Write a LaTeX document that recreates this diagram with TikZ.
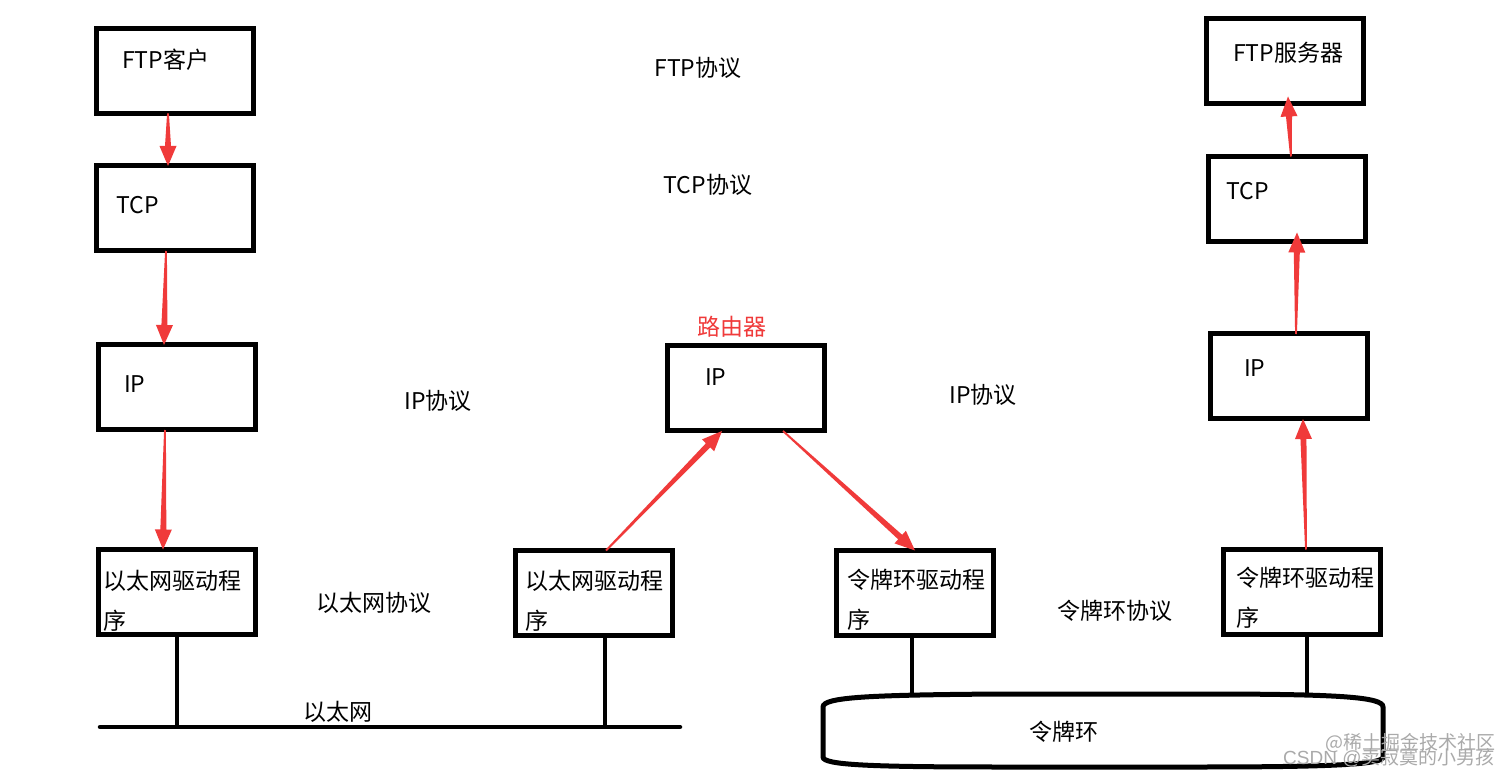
\documentclass[tikz,border=0pt]{standalone}
\usepackage{fontspec}
\setmainfont{Noto Sans CJK SC}
\newfontfamily\wmlatin{Liberation Sans}
\usetikzlibrary{calc}
\definecolor{arrowred}{RGB}{240,58,58}
\definecolor{wmgray}{RGB}{170,170,170}
\newcommand\tarrow[2]{%
  \fill[arrowred] let \p1=(#1), \p2=(#2), \n1={atan2(\y2-\y1,\x2-\x1)},
    \n2={\n1+90}, \n3={\n1-90}, \n4={\n1+180} in
    ($(\p1)+(\n2:0.9pt)$) -- ($(\p2)+(\n4:20pt)+(\n2:3pt)$) -- ($(\p2)+(\n4:20pt)+(\n2:8.5pt)$)
    -- (\p2) -- ($(\p2)+(\n4:20pt)+(\n3:8.5pt)$) -- ($(\p2)+(\n4:20pt)+(\n3:3pt)$)
    -- ($(\p1)+(\n3:0.9pt)$) -- cycle;}
\tikzset{
  box/.style={draw, line width=5pt, minimum width=157pt, minimum height=85pt, inner sep=0pt, outer sep=0pt},
  txt/.style={font=\fontsize{23}{28}\selectfont, inner sep=0pt, anchor=base west},
  ctxt/.style={font=\fontsize{23}{28}\selectfont, inner sep=0pt, anchor=base},
  wire/.style={line width=4.5pt},
  wm/.style={font=\fontsize{19}{20}\selectfont, text=wmgray, inner sep=0pt, anchor=base west}
}
\begin{document}
\begin{tikzpicture}[x=1pt,y=-1pt]
\useasboundingbox (0,0) rectangle (1508,775);
\fill[white] (0,0) rectangle (1508,775);

% boxes
\node[box] (ftpc) at (175,71) {};
\node[box] (tcpl) at (175,208.5) {};
\node[box] (ipl)  at (177,387.5) {};
\node[box] (ethl) at (177,592) {};
\node[box] (ethm) at (594,593) {};
\node[box] (rip)  at (746,388.5) {};
\node[box] (tokm) at (915,593) {};
\node[box] (tokr) at (1302,592) {};
\node[box] (ipr)  at (1289,376.5) {};
\node[box] (tcpr) at (1287,199) {};
\node[box] (ftps) at (1284.5,61) {};

% box texts
\node[txt] (ftpct) at (122,69) {FTP客户};
\node[txt] (tcplt) at (116,214) {TCP};
\node[txt] (iplt)  at (124,393) {IP};
\node[txt] (ethlt1) at (103,589) {以太网驱动程};
\node[txt] (ethlt2) at (103,629) {序};
\node[txt] (ethmt1) at (525,589) {以太网驱动程};
\node[txt] (ethmt2) at (525,629) {序};
\node[txt] (ript)  at (705,386) {IP};
\node[txt] (tokmt1) at (847,588) {令牌环驱动程};
\node[txt] (tokmt2) at (847,628) {序};
\node[txt] (tokrt1) at (1236,586) {令牌环驱动程};
\node[txt] (tokrt2) at (1236,626) {序};
\node[txt] (iprt)  at (1244,377) {IP};
\node[txt] (tcprt) at (1226,200) {TCP};
\node[txt] (ftpst) at (1233,62) {FTP服务器};

% protocol labels
\node[ctxt] (pftp) at (698,77) {FTP协议};
\node[ctxt] (ptcp) at (708,194) {TCP协议};
\node[ctxt] (pip1) at (438,410) {IP协议};
\node[ctxt] (pip2) at (983,404) {IP协议};
\node[ctxt] (peth) at (374,611) {以太网协议};
\node[ctxt] (ptok) at (1115,619) {令牌环协议};
\node[ctxt, text=arrowred] (router) at (732,336) {路由器};

% Ethernet bus
\coordinate (busL) at (100,727);
\coordinate (busR) at (680,727);
\draw[wire, line cap=round] (busL) -- (busR);
\draw[wire] (ethl.south) -- (ethl.south |- busL);
\draw[wire] ([xshift=11pt]ethm.south) -- ([xshift=11pt]ethm.south |- busL);
\node[ctxt] (ethnet) at (338,720) {以太网};

% Token ring
\draw[line width=5pt] (823,757) -- (823,707) .. controls (823,697) and (870,695) .. (1000,694)
  -- (1200,694) .. controls (1340,694) and (1383,697) .. (1383,707) -- (1383,757)
  .. controls (1383,764) and (1340,767) .. (1200,767) -- (1000,767)
  .. controls (870,767) and (823,765) .. (823,757) -- cycle;
\coordinate (ringtop) at (1100,697);
\draw[wire] ([xshift=-3pt]tokm.south) -- ([xshift=-3pt]tokm.south |- ringtop);
\draw[wire] ([xshift=5pt]tokr.south) -- ([xshift=5pt]tokr.south |- ringtop);
\node[ctxt] (ring) at (1064,740) {令牌环};

% arrows
\tarrow{[xshift=-7pt]ftpc.south}{[xshift=-7pt]tcpl.north}
\tarrow{[xshift=-9pt]tcpl.south}{[xshift=-13pt]ipl.north}
\tarrow{[xshift=-12pt]ipl.south}{[xshift=-14pt]ethl.north}
\tarrow{[xshift=12pt]ethm.north}{[xshift=-24pt]rip.south}
\tarrow{[xshift=37pt]rip.south}{tokm.north}
\tarrow{[xshift=4pt]tokr.north}{[xshift=14pt]ipr.south}
\tarrow{[xshift=7pt]ipr.north}{[xshift=10pt,yshift=9pt]tcpr.south}
\tarrow{[xshift=4pt]tcpr.north}{[xshift=3.5pt,yshift=7pt]ftps.south}

% watermark
\node[wm] (wm1) at (1325,749) {@稀土掘金技术社区};
\node[wm] (wm2) at (1283,764) {{\wmlatin CSDN @}卖寂寞的小男孩};
\end{tikzpicture}
\end{document}
